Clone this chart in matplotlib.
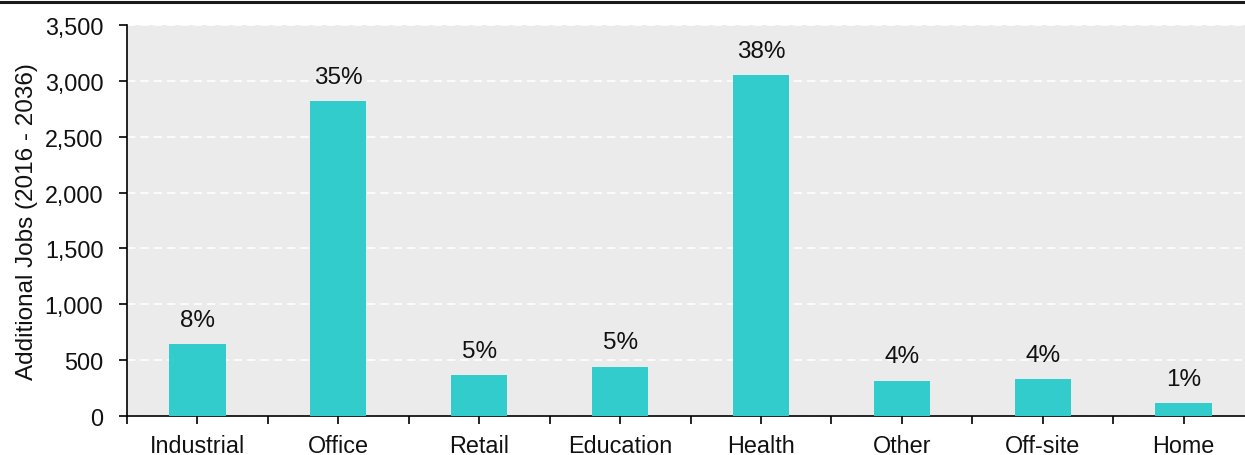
import matplotlib.pyplot as plt
from matplotlib.lines import Line2D

plt.rcParams['font.family'] = ['Liberation Sans', 'DejaVu Sans']

categories = ['Industrial', 'Office', 'Retail', 'Education', 'Health', 'Other', 'Off-site', 'Home']
jobs = [645, 2820, 365, 440, 3050, 315, 330, 115]
shares = ['8%', '35%', '5%', '5%', '38%', '4%', '4%', '1%']

fig = plt.figure(figsize=(12.45, 4.56), dpi=100)
# axes run past the right edge of the picture, as in the original
ax = fig.add_axes([127 / 1245, 39 / 456, 1127 / 1245, 391 / 456])
ax.set_facecolor('#EBEBEB')

x = range(len(categories))
ax.bar(x, jobs, width=0.4, color='#33CCCC', zorder=3)
for xi, v, s in zip(x, jobs, shares):
    ax.text(xi, v + 120, s, ha='center', va='bottom', fontsize=17.5, color='#111111', zorder=4)

ax.set_xlim(-0.5, 7.5)
ax.set_ylim(0, 3500)
ax.set_yticks(range(0, 3501, 500))
ax.set_yticklabels([f'{v:,}' for v in range(0, 3501, 500)])
ax.set_xticks(list(x))
ax.set_xticklabels(categories)
ax.set_xticks([i + 0.5 for i in range(-1, 8)], minor=True)
ax.tick_params(axis='both', which='both', direction='out', length=6, width=1.2,
               color='black', labelsize=16.8, labelcolor='#111111')
ax.tick_params(axis='x', which='major', pad=7)
ax.tick_params(axis='y', pad=11)

ax.grid(axis='y', color='white', linestyle=(0, (5, 3)), linewidth=1.2, zorder=1)
ax.set_axisbelow(True)
for side in ['top', 'right']:
    ax.spines[side].set_visible(False)
for side in ['left', 'bottom']:
    ax.spines[side].set_linewidth(1.2)

ax.set_ylabel('Additional Jobs (2016 - 2036)', fontsize=17.5, color='#111111', labelpad=5)

fig.add_artist(Line2D([0, 1], [1 - 3 / 456, 1 - 3 / 456], color='#1a1a1a', linewidth=2.2,
                      transform=fig.transFigure))

fig.savefig('out.png', dpi=100)
